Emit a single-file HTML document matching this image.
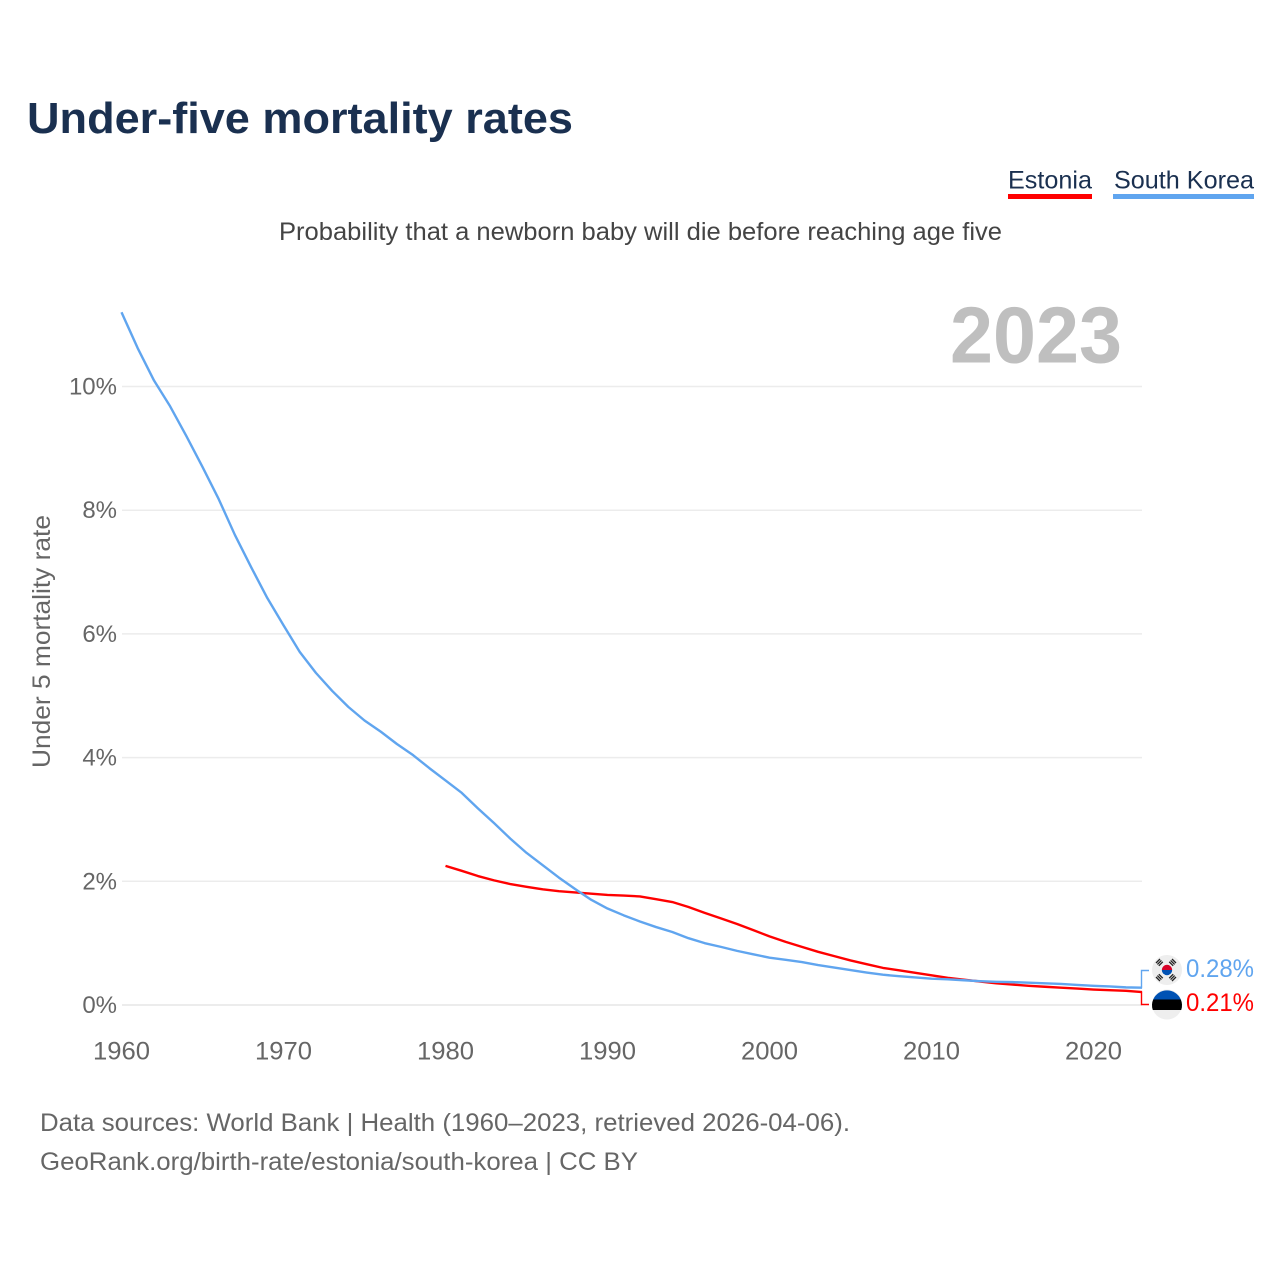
<!DOCTYPE html>
<html lang="en">
<head>
<meta charset="utf-8">
<title>Under-five mortality rates</title>
<style>
html,body{margin:0;padding:0;background:#fff;}
svg{display:block;font-family:"Liberation Sans",Arial,sans-serif;}
</style>
</head>
<body>
<svg id="chart" xmlns="http://www.w3.org/2000/svg" width="1280" height="1280" viewBox="0 0 1280 1280">
  <rect width="1280" height="1280" fill="#fff"/>
  <text x="27" y="133" font-size="44" font-weight="700" fill="#1a3050" textLength="546" lengthAdjust="spacingAndGlyphs">Under-five mortality rates</text>

  <g>
    <g>
      <text x="1008" y="188.500" font-size="25" fill="#1a3050" textLength="84" lengthAdjust="spacingAndGlyphs">Estonia</text>
      <rect x="1008" y="194" width="84" height="5" fill="#ff0000"/>
    </g>
    <g>
      <text x="1114" y="188.500" font-size="25" fill="#1a3050" textLength="140" lengthAdjust="spacingAndGlyphs">South Korea</text>
      <rect x="1113" y="194" width="141" height="5" fill="#60a5ef"/>
    </g>
  </g>

  <text x="279" y="240" font-size="25" fill="#444" textLength="723" lengthAdjust="spacingAndGlyphs">Probability that a newborn baby will die before reaching age five</text>
  <text x="950" y="362.500" font-size="80" font-weight="700" fill="#bfbfbf" textLength="172" lengthAdjust="spacingAndGlyphs">2023</text>
  <text transform="translate(50,768) rotate(-90)" font-size="25" fill="#666" textLength="253" lengthAdjust="spacingAndGlyphs">Under 5 mortality rate</text>

  <g id="grid"></g>
  <g id="yticks"></g>
  <g id="xticks"></g>
  <g id="lines"></g>

  <g>
    <circle cx="1167" cy="970" r="15" fill="#eeeeee"/>
    <path d="M1161.800 970a5.200 5.200 0 0 1 10.400 0z" fill="#d80027"/>
    <path d="M1161.800 970a5.200 5.200 0 0 0 10.400 0z" fill="#0052b4"/>
    <g stroke="#222" stroke-width="1.3" fill="none">
      <path d="M1156 963l4-4M1157.400 964.400l4-4M1158.800 965.800l4-4"/>
      <path d="M1172 959l4 4M1170.600 960.400l4 4M1169.200 961.800l4 4"/>
      <path d="M1156 977l4 4M1157.400 975.600l4 4M1158.800 974.200l4 4"/>
      <path d="M1176 977l-4 4M1174.600 975.600l-4 4M1173.200 974.200l-4 4"/>
    </g>
  </g>
  <g>
    <circle cx="1167" cy="1004.500" r="15" fill="#eeeeee"/>
    <path d="M1153.200 999.500A15 15 0 0 1 1180.800 999.500z" fill="#0052b4"/>
    <path d="M1153.200 999.500H1180.800A15 15 0 0 1 1182 1004.500A15 15 0 0 1 1181.200 1010H1152.800A15 15 0 0 1 1152 1004.500A15 15 0 0 1 1153.200 999.500z" fill="#000"/>
  </g>
  <g id="labels"></g>

  <text x="40" y="1131" font-size="25" fill="#666" textLength="810" lengthAdjust="spacingAndGlyphs">Data sources: World Bank | Health (1960–2023, retrieved 2026-04-06).</text>
  <text x="40" y="1170" font-size="25" fill="#666" textLength="598" lengthAdjust="spacingAndGlyphs">GeoRank.org/birth-rate/estonia/south-korea | CC BY</text>
</svg>
<script>
const xTickYears = [1960, 1970, 1980, 1990, 2000, 2010, 2020];
const yTickValues = [0, 2, 4, 6, 8, 10];
const koreaStartYear = 1960;
const koreaValues = [11.2, 10.62, 10.1, 9.68, 9.2, 8.7, 8.18, 7.6, 7.08, 6.58,
  6.14, 5.71, 5.37, 5.08, 4.82, 4.6, 4.42, 4.22, 4.04, 3.83,
  3.63, 3.43, 3.18, 2.94, 2.69, 2.46, 2.26, 2.06, 1.875, 1.7,
  1.56, 1.45, 1.35, 1.26, 1.18, 1.08, 1.0, 0.94, 0.875, 0.82,
  0.765, 0.73, 0.695, 0.645, 0.605, 0.565, 0.525, 0.49, 0.465, 0.445,
  0.425, 0.415, 0.4, 0.385, 0.375, 0.37, 0.36, 0.35, 0.34, 0.325,
  0.31, 0.3, 0.285, 0.28];
const estoniaStartYear = 1980;
const estoniaValues = [2.25, 2.17, 2.085, 2.015, 1.955, 1.91, 1.87, 1.84, 1.82, 1.8,
  1.78, 1.77, 1.755, 1.71, 1.665, 1.585, 1.49, 1.4, 1.31, 1.21,
  1.11, 1.02, 0.94, 0.86, 0.79, 0.72, 0.66, 0.6, 0.56, 0.52,
  0.48, 0.44, 0.41, 0.38, 0.35, 0.33, 0.31, 0.295, 0.28, 0.265,
  0.25, 0.24, 0.23, 0.21];

const NS = 'http://www.w3.org/2000/svg';
const xScale = function (year) { return 121.5 + (year - 1960) * 16.2; };
const yScale = function (value) { return 1005 - value * 61.85; };
const make = function (tag, parent) {
  const el = document.createElementNS(NS, tag);
  document.getElementById(parent).appendChild(el);
  return el;
};

yTickValues.forEach(function (v) {
  const line = make('line', 'grid');
  
  
  line.setAttribute('x1', 122);
  line.setAttribute('x2', 1142);
  line.setAttribute('y1', yScale(v));
  line.setAttribute('y2', yScale(v));
  line.setAttribute('stroke', '#ececec');
  line.setAttribute('stroke-width', v === 0 ? 2 : 1.5);

  const label = make('text', 'yticks');
  
  
  label.setAttribute('x', 117);
  label.setAttribute('y', yScale(v) + 8);
  label.setAttribute('text-anchor', 'end');
  label.setAttribute('font-size', 24);
  label.setAttribute('fill', '#666');
  label.textContent = v + '%';
});

xTickYears.forEach(function (year) {
  const label = make('text', 'xticks');
  
  
  label.setAttribute('x', xScale(year));
  label.setAttribute('y', 1059.5);
  label.setAttribute('text-anchor', 'middle');
  label.setAttribute('font-size', 25);
  label.setAttribute('fill', '#666');
  label.setAttribute('textLength', 57);
  label.setAttribute('lengthAdjust', 'spacingAndGlyphs');
  label.textContent = String(year);
});

const pointsFor = function (startYear, values) {
  return values.map(function (v, i) {
    return xScale(startYear + i).toFixed(2) + ',' + yScale(v).toFixed(2);
  }).join(' ');
};

const estoniaLine = make('polyline', 'lines');


estoniaLine.setAttribute('points', pointsFor(estoniaStartYear, estoniaValues));
estoniaLine.setAttribute('fill', 'none');
estoniaLine.setAttribute('stroke', '#ff0000');
estoniaLine.setAttribute('stroke-width', 2.4);
estoniaLine.setAttribute('stroke-linejoin', 'round');

const koreaLine = make('polyline', 'lines');


koreaLine.setAttribute('points', pointsFor(koreaStartYear, koreaValues));
koreaLine.setAttribute('fill', 'none');
koreaLine.setAttribute('stroke', '#60a5ef');
koreaLine.setAttribute('stroke-width', 2.4);
koreaLine.setAttribute('stroke-linejoin', 'round');

const koreaLast = koreaValues[koreaValues.length - 1];
const estoniaLast = estoniaValues[estoniaValues.length - 1];

const koreaConnector = make('polyline', 'labels');


koreaConnector.setAttribute('points', '1141.500,' + yScale(koreaLast) + ' 1141.500,970.500 1149,970.500');
koreaConnector.setAttribute('fill', 'none');
koreaConnector.setAttribute('stroke', '#60a5ef');
koreaConnector.setAttribute('stroke-width', 1.4);

const estoniaConnector = make('polyline', 'labels');


estoniaConnector.setAttribute('points', '1141.500,' + yScale(estoniaLast) + ' 1141.500,1004.500 1149,1004.500');
estoniaConnector.setAttribute('fill', 'none');
estoniaConnector.setAttribute('stroke', '#ff0000');
estoniaConnector.setAttribute('stroke-width', 1.4);

const koreaLabel = make('text', 'labels');


koreaLabel.setAttribute('x', 1186);
koreaLabel.setAttribute('y', 977);
koreaLabel.setAttribute('font-size', 25);
koreaLabel.setAttribute('fill', '#60a5ef');
koreaLabel.setAttribute('textLength', 68);
koreaLabel.setAttribute('lengthAdjust', 'spacingAndGlyphs');
koreaLabel.textContent = koreaLast.toFixed(2) + '%';

const estoniaLabel = make('text', 'labels');


estoniaLabel.setAttribute('x', 1186);
estoniaLabel.setAttribute('y', 1011);
estoniaLabel.setAttribute('font-size', 25);
estoniaLabel.setAttribute('fill', '#ff0000');
estoniaLabel.setAttribute('textLength', 68);
estoniaLabel.setAttribute('lengthAdjust', 'spacingAndGlyphs');
estoniaLabel.textContent = estoniaLast.toFixed(2) + '%';
</script>
</body>
</html>
